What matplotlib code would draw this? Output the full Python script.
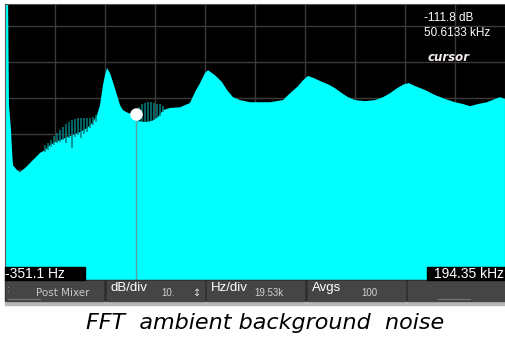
import numpy as np
import matplotlib.pyplot as plt
from matplotlib.patches import Rectangle

# FFT trace (kHz, dB)
freq_khz = [-0.351, 0.817, 1.207, 1.985, 2.375, 2.764, 4.322, 5.490, 7.437, 9.384,
            11.331, 13.278, 15.225, 17.172, 19.119, 21.066, 23.792, 26.128, 28.854, 31.580,
            33.916, 35.474, 36.642, 37.810, 38.589, 39.368, 40.536, 41.704, 43.262, 44.430,
            45.598, 47.545, 50.271, 51.829, 54.165, 56.891, 59.227, 61.174, 63.900, 67.794,
            71.688, 73.635, 75.582, 77.529, 78.697, 81.423, 84.149, 86.096, 88.432, 91.158,
            95.052, 102.84, 107.90, 110.63, 113.37, 115.70, 117.65, 119.98, 122.32, 125.44,
            128.17, 130.89, 133.23, 135.96, 139.85, 143.74, 146.86, 149.58, 152.31, 155.03,
            156.98, 159.32, 163.21, 167.11, 171.00, 174.88, 178.00, 180.72, 183.84, 187.35,
            190.46, 192.40, 194.35]
level_db = [-78.0, -78.0, -109.3, -116.2, -121.8, -126.0, -127.4, -127.9, -126.8, -125.4,
            -124.0, -122.6, -121.8, -120.4, -119.6, -119.0, -118.2, -117.6, -116.8, -115.7,
            -114.0, -112.1, -109.3, -103.7, -101.0, -99.0, -100.4, -102.9, -106.5, -109.3,
            -110.7, -111.5, -111.8, -113.7, -114.0, -113.7, -112.6, -110.7, -110.1, -109.9,
            -108.7, -105.7, -103.2, -100.4, -99.6, -101.0, -102.9, -105.1, -107.1, -107.9,
            -108.5, -108.5, -107.9, -106.0, -104.3, -102.4, -101.2, -101.8, -102.6, -103.5,
            -104.6, -106.0, -107.1, -107.9, -108.2, -107.9, -107.1, -106.0, -104.6, -103.5,
            -103.2, -104.0, -105.1, -106.5, -107.6, -108.5, -109.0, -109.6, -109.0, -108.5,
            -107.6, -107.1, -107.6]

# noise spikes on the trace
spike_khz = [15.23, 16.39, 17.56, 18.73, 19.90, 21.07, 22.24, 23.40, 24.57, 25.74,
             26.91, 28.08, 29.24, 30.41, 31.58, 32.75, 33.92, 35.08,
             51.83, 52.99, 54.16, 55.33, 56.50, 57.67, 58.84, 60.01, 61.17]
spike_top = [-120.4, -119.9, -119.0, -117.9, -117.1, -116.2, -115.4, -114.6, -114.0, -113.5,
             -113.2, -112.9, -112.9, -112.9, -112.9, -112.9, -112.6, -112.1,
             -109.9, -109.0, -108.7, -108.5, -108.5, -108.7, -109.0, -109.0, -109.6]
spike_bot = [-122.4, -121.8, -121.0, -120.4, -119.9, -119.6, -119.0, -119.9, -118.5, -121.2,
             -118.2, -117.6, -118.5, -117.4, -116.8, -115.7, -114.9, -114.0,
             -114.0, -113.7, -114.0, -114.0, -113.7, -113.5, -112.9, -112.4, -111.2]

cursor_khz = 50.6133
cursor_db = -111.8
start_lbl = "-351.1 Hz"
stop_lbl = "194.35 kHz"
softkeys = [("", "Post Mixer"), ("dB/div", "10."), ("Hz/div", "19.53k"), ("Avgs", "100"), ("", "")]

W, H = 505, 337
fig = plt.figure(figsize=(W / 100, H / 100), dpi=100)
fig.patch.set_facecolor("white")

def fx(px):
    return px / W

def fy(py):
    return 1 - py / H

# screen
ax = fig.add_axes([fx(5), fy(280), 500 / W, 276 / H])
ax.set_facecolor("black")
ax.set_xlim(-0.351, 194.35)
ax.set_ylim(-157.9, -81.2)
ax.set_xticks(np.linspace(-0.351, 194.35, 11)[1:-1])
ax.set_yticks(np.arange(-87.4, -158, -10))
ax.grid(True, color="#3a3a3a", lw=1)
ax.tick_params(length=0, labelbottom=False, labelleft=False)
for s in ax.spines.values():
    s.set_color("#555555")
ax.set_axisbelow(True)

ax.fill_between(freq_khz, level_db, -200, color="#00ffff", lw=0, zorder=2)
ax.vlines(spike_khz, spike_bot, spike_top, color="#007f80", lw=1.1, zorder=3)

# cursor
ax.vlines([cursor_khz], -200, cursor_db, color="#5f9ea0", lw=1, zorder=4)
ax.plot([cursor_khz], [cursor_db], "o", color="white", ms=8, zorder=5)
ax.text(0.838, 0.95, f"{cursor_db} dB", transform=ax.transAxes, color="white",
        fontsize=8.5, family="Liberation Sans", va="center", zorder=6)
ax.text(0.838, 0.895, f"{cursor_khz} kHz", transform=ax.transAxes, color="white",
        fontsize=8.5, family="Liberation Sans", va="center", zorder=6)
ax.text(0.846, 0.805, "cursor", transform=ax.transAxes, color="#f4eaea",
        fontsize=8.5, fontweight="bold", style="italic", va="center", zorder=6)

# start / stop labels
fig.patches.append(Rectangle((fx(5), fy(280)), 80 / W, 13 / H, transform=fig.transFigure,
                             color="black", zorder=5))
fig.patches.append(Rectangle((fx(427), fy(280)), 78 / W, 13 / H, transform=fig.transFigure,
                             color="black", zorder=5))
fig.text(fx(5), fy(273.5), start_lbl, color="white", fontsize=10, family="Liberation Sans",
         va="center", zorder=6)
fig.text(fx(504), fy(273.5), stop_lbl, color="white", fontsize=10, family="Liberation Sans",
         va="center", ha="right", zorder=6)

# softkey bar
fig.patches.append(Rectangle((fx(5), fy(302)), 500 / W, 22 / H, transform=fig.transFigure,
                             color="#2e2e2e", zorder=1))
fig.patches.append(Rectangle((fx(5), fy(305)), 500 / W, 3 / H, transform=fig.transFigure,
                             color="#b8b8b8", zorder=1))
for i, (title, value) in enumerate(softkeys):
    x0 = 6 + i * 100.5
    fig.patches.append(Rectangle((fx(x0), fy(301)), 97 / W, 20 / H, transform=fig.transFigure,
                                 color="#454545", zorder=2))
    if title:
        fig.text(fx(x0 + 4), fy(288), title, color="white", fontsize=9.5,
                 family="Liberation Sans", va="center", zorder=3)
        fig.text(fx(x0 + 62), fy(293), value, color="#d0d0d0", fontsize=7,
                 family="Liberation Sans", va="center", ha="center", zorder=3)
    elif value:
        fig.text(fx(x0 + 84), fy(292.5), value, color="#c8c8c8", fontsize=7.5,
                 family="DejaVu Sans", va="center", ha="right", zorder=3)
fig.text(fx(7), fy(289), ":", color="#aaaaaa", fontsize=6, va="center", zorder=3)
fig.add_artist(plt.Line2D([fx(8), fx(40)], [fy(299), fy(299)], color="#777777", lw=0.8, zorder=3))
fig.add_artist(plt.Line2D([fx(438), fx(470)], [fy(299), fy(299)], color="#777777", lw=0.8, zorder=3))
fig.text(fx(197), fy(292.5), "\u2195", color="#e0e0e0", fontsize=7, ha="center", va="center", zorder=3)

# caption
fig.text(fx(265), fy(323), "FFT  ambient background  noise", color="black", fontsize=16,
         style="italic", ha="center", va="center")

fig.savefig("out.png", dpi=100)
